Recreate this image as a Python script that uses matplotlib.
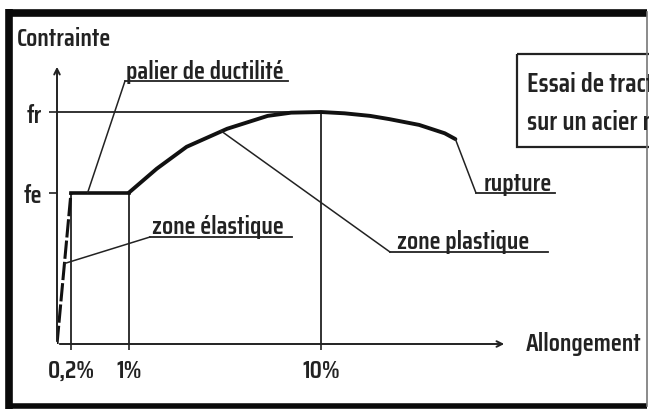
import numpy as np
import matplotlib
matplotlib.use("Agg")
import matplotlib.pyplot as plt
from matplotlib.patches import Rectangle

plt.rcParams['font.family'] = ['Saira Condensed', 'Saira SemiCondensed', 'DejaVu Sans']
plt.rcParams['font.weight'] = 600

# data (strain in %, stress in MPa)
fe = 235
fr = 360
strain = [0, 0.2, 1, 2.3, 3.7, 5.6, 7.5, 8.6, 10, 11.1, 12.3, 13.2, 14.6, 15.8, 16.3]
stress = [0, fe, fe, 272, 306, 334, 354, 359, fr, 358, 354, 349, 340, 327, 318]
xticks = [0.2, 1, 10]
xticklabels = ['0,2%', '1%', '10%']
yticks = [fe, fr]
yticklabels = ['fe', 'fr']

ink = '#222222'
fs = 18.5

# the x axis of the sketch is not to scale: piecewise mapping
sb = np.array([-1, 0, 0.2, 1, 10, 30])
pb = np.array([-70, 0, 14, 72, 264, 264 + 20 * 21.33])
def fwd(x):
    return np.interp(x, sb, pb)
def inv(p):
    return np.interp(p, pb, sb)

W, H = 649, 410
fig = plt.figure(figsize=(W / 100, H / 100), dpi=100)

# overlay in pixel coordinates
ov = fig.add_axes([0, 0, 1, 1])
ov.set_xlim(0, W)
ov.set_ylim(H, 0)
ov.axis('off')

# data axes: origin at pixel (57, 345)
ax = fig.add_axes([57 / W, (H - 345) / H, 450 / W, 280 / H])
ax.set_xscale('function', functions=(fwd, inv))
ax.set_xlim(0, inv(450))
ax.set_ylim(0, 280 / 0.6444)
ax.patch.set_alpha(0)
for s in ax.spines.values():
    s.set_visible(False)

ax.set_xticks(xticks)
ax.set_xticklabels(xticklabels, fontsize=fs, color=ink)
ax.set_yticks(yticks)
ax.set_yticklabels(yticklabels, fontsize=fs, color=ink)
ax.tick_params(axis='x', length=4, width=1.2, color=ink, pad=6)
ax.tick_params(axis='y', length=6, width=1.2, color=ink, pad=5)
ax.minorticks_off()

# axes arrows
xmax = ax.get_xlim()[1]
ymax = ax.get_ylim()[1]
ax.annotate('', xy=(xmax, 0), xytext=(0, 0),
            arrowprops=dict(arrowstyle='->', lw=1.4, color=ink), annotation_clip=False)
ax.annotate('', xy=(0, ymax), xytext=(0, 0),
            arrowprops=dict(arrowstyle='->', lw=1.4, color=ink), annotation_clip=False)

# guide lines
ax.plot([0, 10], [fr, fr], color=ink, lw=1.3)
for xv, yv in zip([0.2, 1, 10], [fe, fe, fr]):
    ax.plot([xv, xv], [0, yv], color=ink, lw=1.3)

# the curve
ax.plot(strain[:2], stress[:2], color='#111111', lw=2.2, ls=(0, (6, 1)))
ax.plot(strain[1:3], stress[1:3], color='#111111', lw=2.6)
ax.plot(strain[2:], stress[2:], color='#111111', lw=2.8, solid_capstyle='round',
        solid_joinstyle='round')

# annotations with underline + leader
def label(text, tx, ty, ux0, ux1, uy, target):
    ov.text(tx, ty, text, fontsize=fs, color=ink, va='baseline', ha='left')
    ov.plot([ux0, ux1], [uy, uy], color=ink, lw=1.3)
    ax.annotate('', xy=target, xycoords='data', xytext=(ux0, uy), textcoords=ov.transData,
                arrowprops=dict(arrowstyle='-', lw=1.1, color=ink, shrinkA=0, shrinkB=0),
                annotation_clip=False)

label('palier de ductilité', 126, 79, 125, 288, 82, (0.43, fe))
label('zone élastique', 152, 234, 150, 292, 238, (0.11, 125))
label('zone plastique', 397, 249, 390, 548, 253, (5.3, 331))
label('rupture', 484, 191, 476, 555, 194, (16.3, 318))

ov.text(17, 46, 'Contrainte', fontsize=fs, color=ink, va='baseline')
ov.text(526, 344, 'Allongement', fontsize=fs, color=ink, va='center')

# title box, cut by the picture edge
ov.add_patch(Rectangle((517, 55), 200, 93, fill=False, lw=1.6, edgecolor=ink))
ov.text(527, 92, 'Essai de traction', fontsize=fs + 1, color=ink, va='baseline')
ov.text(527, 130, 'sur un acier naturel', fontsize=fs + 1, color=ink, va='baseline')

# frame: thick on top/left/bottom, thin on the right
ov.plot([9, 647], [13.5, 13.5], color='#0a0a0a', lw=5.5, solid_capstyle='butt')
ov.plot([8.5, 8.5], [10, 410], color='#0a0a0a', lw=5.5, solid_capstyle='butt')
ov.plot([6, 647], [407, 407], color='#0a0a0a', lw=4, solid_capstyle='butt')
ov.plot([647, 647], [13, 407], color='#777777', lw=1.2)

fig.savefig('out.png', dpi=100)
